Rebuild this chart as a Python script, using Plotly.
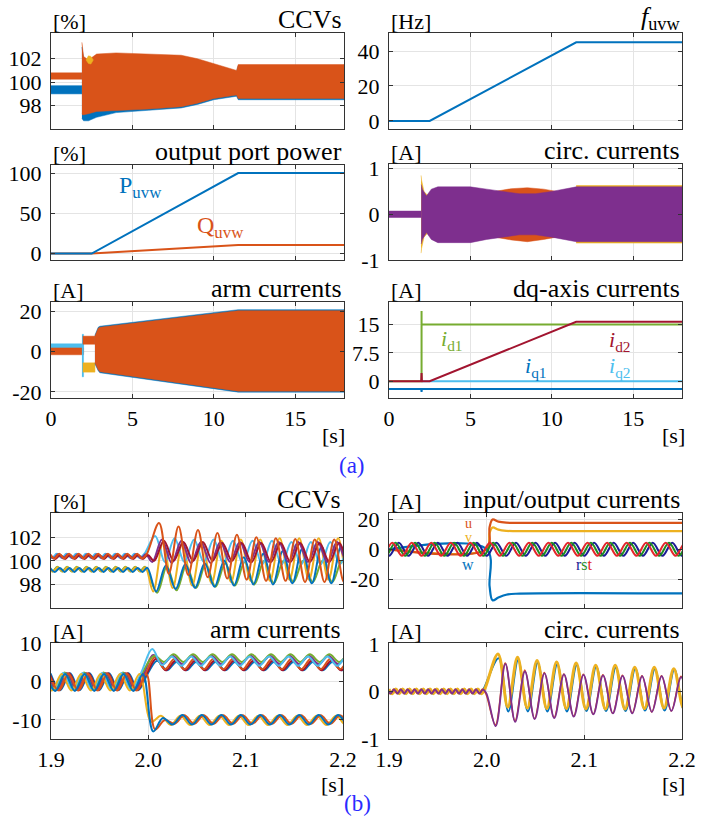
import plotly.graph_objects as go

W, H = 702, 825
FONT = "Liberation Serif"

C_BLUE, C_ORANGE, C_YELLOW = "#0072BD", "#D95319", "#EDB120"
C_PURPLE, C_GREEN, C_LBLUE, C_DRED = "#7E2F8E", "#77AC30", "#4DBEEE", "#A2142F"
C_R, C_S, C_T = "#1c1c96", "#1f8c1f", "#e3262b"

# ---------------- (a) long run, 0..18 s ----------------
ramp_t = [0, 2.5, 11.5, 18]
f_uvw = [0, 0, 45, 45]
P_uvw = [0, 0, 100, 100]
Q_uvw = [0, 0, 10.5, 10.5]

id1_t = [0, 2.0, 2.0, 2.0, 18]
id1 = [0, 0, 18.5, 15, 15]
id2_t = [0, 1.98, 2.0, 2.02, 2.5, 11.5, 18]
id2 = [0, 0, 2.2, 0, 0, 15.7, 15.7]
iq1_t = [0, 1.98, 2.0, 2.02, 18]
iq1 = [-2, -2, -2.8, -2, -2]
iq2_t = [2.0, 18]
iq2 = [0, 0]

# CCV envelopes
ccv_pre_t = [0, 1.9]
ccv_pre_or_up = [100.8, 100.8]
ccv_pre_or_lo = [100.25, 100.25]
ccv_pre_bl_up = [99.7, 99.7]
ccv_pre_bl_lo = [99.0, 99.0]
ccv_t = [1.9, 1.95, 2.0, 2.3, 2.8, 4, 6, 8, 9, 10, 11, 11.4, 11.5, 18]
ccv_or_up = [103.4, 102.6, 102.2, 101.9, 102.4, 102.5, 102.4, 102.3, 102.0, 101.6, 101.2, 101.0, 101.5, 101.5]
ccv_or_lo = [97.3, 97.2, 97.2, 97.3, 97.5, 97.6, 97.7, 97.9, 98.2, 98.6, 98.8, 98.9, 98.6, 98.6]
ccv_bl_up = [103.0, 102.5, 102.1, 101.8, 102.3, 102.4, 102.3, 102.2, 101.9, 101.5, 101.1, 100.9, 101.4, 101.4]
ccv_bl_lo = [96.9, 96.8, 96.7, 96.7, 97.0, 97.4, 97.6, 97.8, 98.1, 98.5, 98.7, 98.8, 98.5, 98.5]
ccv_ye_t = [2.15, 2.3, 2.45, 2.6]
ccv_ye_up = [101.9, 102.25, 102.2, 101.9]
ccv_ye_lo = [101.9, 101.6, 101.55, 101.9]

# circulating current envelopes
circ_pre_t = [0, 1.98]
circ_pre_up = [0.07, 0.07]
circ_pre_lo = [-0.07, -0.07]
circ_t = [1.98, 2.05, 2.3, 2.6, 3, 5, 6, 8, 9, 10, 11.5, 18]
circ_pu_up = [0.65, 0.55, 0.40, 0.55, 0.60, 0.60, 0.55, 0.45, 0.45, 0.50, 0.60, 0.60]
circ_pu_lo = [-0.65, -0.55, -0.40, -0.55, -0.62, -0.62, -0.55, -0.45, -0.45, -0.50, -0.60, -0.60]
circ_ye_t = [1.97, 2.0, 2.15, 2.35, 2.6]
circ_ye_up = [0.85, 0.75, 0.5, 0.42, 0.5]
circ_ye_lo = [-0.85, -0.75, -0.5, -0.42, -0.5]
circ_or_t = [6.5, 7.5, 8.5, 9.5, 10.3]
circ_or_up = [0.5, 0.56, 0.58, 0.55, 0.5]
circ_or_lo = [-0.5, -0.56, -0.6, -0.55, -0.5]
circ_ye2_t = [11.5, 18]
circ_ye2_up = [0.63, 0.63]
circ_ye2_lo = [-0.63, -0.63]

# arm current envelopes
arm_pre_t = [0, 2.0]
arm_pre_lb_up = [3.8, 3.8]
arm_pre_lb_lo = [-1.0, -1.0]
arm_pre_or_up = [1.8, 1.8]
arm_pre_or_lo = [-1.6, -1.6]
arm_wall_t = [1.9, 2.0]
arm_wall_up = [8.5, 8.5]
arm_wall_lo = [-12.5, -12.5]
arm_box_t = [1.95, 2.7]
arm_box_or_up = [7.6, 7.6]
arm_box_or_lo = [3.6, 3.6]
arm_box_ye_up = [-5.6, -5.6]
arm_box_ye_lo = [-10.2, -10.2]
arm_t = [2.7, 2.9, 3.0, 11.5, 18]
arm_or_up = [7.6, 11.5, 12.0, 20.2, 20.2]
arm_or_lo = [-5.6, -9.0, -10.0, -19.6, -19.6]
arm_bl_up = [8.1, 12.0, 12.5, 20.7, 20.7]
arm_bl_lo = [-6.1, -9.5, -10.5, -20.1, -20.1]

# ---------------- (b) zoom 1.9..2.22 s (extrema) ----------------
# each: (color, width, pre extrema, pre phase, post extrema, post phase)
ccv_b = [
    (C_GREEN, 2, [99.5, 99.1] * 12, -0.7,
     [97.3, 99.5, 97.5, 99.6, 97.7, 99.7, 97.8, 99.8, 97.9, 99.9, 98.0, 100.0, 98.1, 100.0, 98.2, 100.0, 98.2, 100.0, 98.2, 100.0, 98.2, 100.0, 98.2], 0.9),
    (C_YELLOW, 2, [99.45, 99.1] * 12, -0.6,
     [97.4, 101.5, 97.7, 101.5, 97.9, 101.6, 98.1, 101.7, 98.2, 101.8, 98.3, 101.8, 98.3, 101.9, 98.4, 101.9, 98.4, 101.9, 98.4, 101.9, 98.4, 101.9, 98.4], 0.5),
    (C_LBLUE, 2, [100.6, 100.25] * 12, -0.8,
     [102.1, 99.9, 101.9, 99.9, 101.8, 99.9, 101.8, 99.8, 101.7, 99.8, 101.7, 99.7, 101.7, 99.7, 101.6, 99.7, 101.6, 99.7, 101.6, 99.7, 101.6, 99.7, 101.6], 0.7),
    (C_BLUE, 2, [99.4, 99.05] * 12, -0.2,
     [97.4, 99.6, 97.6, 99.7, 97.7, 99.8, 97.8, 100.0, 97.9, 100.3, 98.0, 100.6, 98.0, 100.8, 98.1, 101.0, 98.1, 101.2, 98.1, 101.2, 98.1, 101.2, 98.1], 0.8),
    (C_PURPLE, 2, [100.55, 100.2] * 12, -0.5,
     [99.9, 101.8, 99.8, 101.7, 99.8, 101.6, 99.8, 101.6, 99.9, 101.6, 99.9, 101.6, 99.9, 101.6, 99.9, 101.6, 99.9, 101.6, 99.9, 101.6, 99.9, 101.6, 99.9], 0.4),
    (C_DRED, 2, [100.5, 100.15] * 12, -0.1,
     [100.0, 101.7, 100.0, 101.6, 100.0, 101.6, 100.0, 101.5, 100.0, 101.5, 99.9, 101.5, 99.9, 101.5, 99.9, 101.5, 99.9, 101.5, 99.9, 101.5, 99.9, 101.5, 99.9], 0.6),
    (C_ORANGE, 2, [100.6, 100.2] * 12, -0.3,
     [103.2, 98.9, 102.9, 98.8, 102.6, 98.6, 102.35, 98.5, 102.2, 98.4, 102.0, 98.3, 101.9, 98.3, 101.85, 98.2, 101.8, 98.2, 101.8, 98.2, 101.8, 98.2, 101.8], 1.1),
]

io_t = [1.9, 2.0, 2.003, 2.006, 2.012, 2.02, 2.03, 2.22]
io_u = [0, 0, 15, 20, 18.6, 17.9, 17.7, 17.7]
io_v = [0, 0, 11, 14.7, 13.2, 12.4, 12.2, 12.2]
io_w = [0, 0, -25, -34.3, -32.5, -30.6, -29.9, -29.8]
rst_vals = [4.4, -4.4] * 18
rst_b = [(C_R, 0.0), (C_S, -0.333), (C_T, -0.667)]

arm_b = [
    (C_BLUE, [2.2, -2.2] * 7, -0.05, [5.5] + [3.0, 5.2] * 11, 0.9),
    (C_DRED, [2.2, -2.2] * 7, -0.15, [6.0] + [3.0, 5.5] * 11, 0.8),
    (C_ORANGE, [2.2, -2.2] * 7, -0.3, [6.5] + [3.3, 6.0] * 11, 0.7),
    (C_PURPLE, [2.3, -2.1] * 7, -0.45, [7.0] + [4.6, 6.8] * 11, 0.5),
    (C_GREEN, [2.4, -2.0] * 7, -0.6, [6.8] + [5.2, 7.2] * 11, 0.6),
    (C_LBLUE, [2.3, -2.1] * 7, -0.75, [8.6, 4.4] + [6.6, 4.2] * 11, 0.4),
    (C_YELLOW, [2.0, -2.3] * 7, -0.9, [-10.5] + [-8.9, -11.3] * 11, 0.3),
    (C_ORANGE, [2.0, -2.3] * 7, -0.2, [-12.5, -10.0] + [-11.0, -8.8] * 11, 0.7),
    (C_BLUE, [2.0, -2.4] * 7, -0.55, [-13.0, -9.5] + [-11.2, -8.7] * 11, 0.5),
]

circ_b = [
    (C_BLUE, 2, [0.05, -0.05] * 16, -0.33,
     [0.7, -0.42, 0.66, -0.42, 0.6, -0.42, 0.57, -0.42, 0.55, -0.41, 0.52, -0.41, 0.5, -0.41, 0.48, -0.4, 0.47, -0.4, 0.46, -0.39, 0.45, -0.39, 0.45], 1.22),
    (C_YELLOW, 3, [0.05, -0.05] * 16, 0.0,
     [0.79, -0.33, 0.72, -0.35, 0.65, -0.36, 0.62, -0.36, 0.6, -0.37, 0.55, -0.37, 0.55, -0.37, 0.51, -0.36, 0.51, -0.35, 0.48, -0.35, 0.48, -0.34, 0.47], 1.16),
    (C_ORANGE, 1.5, [0.05, -0.05] * 16, -0.66,
     [-0.7, 0.6, -0.62, 0.45, -0.57, 0.4, -0.55, 0.37, -0.52, 0.36, -0.48, 0.35, -0.46, 0.34, -0.45, 0.33, -0.43, 0.33, -0.41, 0.32, -0.4, 0.32, -0.4], 0.9),
    (C_PURPLE, 1.8, [0.04, -0.04] * 16, -0.5,
     [-0.73, 0.58, -0.64, 0.42, -0.58, 0.38, -0.56, 0.36, -0.53, 0.35, -0.48, 0.34, -0.46, 0.33, -0.46, 0.32, -0.43, 0.32, -0.41, 0.3, -0.4, 0.3, -0.4], 0.92),
]

units = ["[%]", "[Hz]", "[%]", "[A]", "[A]", "[A]", "[%]", "[A]", "[A]", "[A]"]
titles = ["CCVs", "<i>f</i><sub>uvw</sub>", "output port power", "circ. currents",
          "arm currents", "dq-axis currents", "CCVs", "input/output currents",
          "arm currents", "circ. currents"]

# ---------------- layout geometry (pixels) ----------------
boxes = [(51, 344, 33, 129), (389, 682, 33, 129), (51, 344, 165, 260), (389, 682, 164, 260),
         (51, 344, 302, 398), (389, 682, 302, 398), (51, 343, 513, 608), (389, 682, 513, 608),
         (51, 343, 643, 739), (389, 682, 643, 739)]
yranges = [[96, 104.2], [-4.6, 50.3], [-8, 110], [-1.0, 1.1], [-23, 24.5], [-4.4, 20.9],
           [96, 104.05], [-39.5, 24.4], [-15, 10.15], [-1.0, 1.02]]
yticks = [[98, 100, 102], [0, 20, 40], [0, 50, 100], [-1, 0, 1], [-20, 0, 20], [0, 7.5, 15],
          [98, 100, 102], [-20, 0, 20], [-10, 0, 10], [-1, 0, 1]]
ytext = [["98", "100", "102"], ["0", "20", "40"], ["0", "50", "100"], ["-1", "0", "1"],
         ["-20", "0", "20"], ["0", "7.5", "15"], ["98", "100", "102"], ["-20", "0", "20"],
         ["-10", "0", "10"], ["-1", "0", "1"]]
xticks_a = [0, 5, 10, 15]
xticks_b = [1.9, 2.0, 2.1, 2.2]
xtext_b = ["1.9", "2.0", "2.1", "2.2"]

fig = go.Figure()


def ax(i):
    return ("x" if i == 0 else f"x{i+1}"), ("y" if i == 0 else f"y{i+1}")


def line(i, x, y, color, width=2, shape="linear"):
    xa, ya = ax(i)
    fig.add_trace(go.Scatter(x=x, y=y, mode="lines", xaxis=xa, yaxis=ya, showlegend=False,
                             line=dict(color=color, width=width, shape=shape), hoverinfo="skip"))


def band(i, t, up, lo, color):
    xa, ya = ax(i)
    fig.add_trace(go.Scatter(x=list(t) + list(t)[::-1], y=list(up) + list(lo)[::-1],
                             mode="lines", fill="toself", fillcolor=color, xaxis=xa, yaxis=ya,
                             line=dict(color=color, width=0.5), showlegend=False, hoverinfo="skip"))


def seq(t0, ph, dt, vals, t_end):
    ts, ys = [], []
    for k, v in enumerate(vals):
        tk = t0 + (ph + k) * dt
        if tk >= t_end:
            break
        ts.append(tk)
        ys.append(v)
    return ts, ys


def stepwave(pre, ph_pre, dt_pre, post, ph_post, dt_post):
    t1, y1 = seq(1.9, ph_pre, dt_pre, pre, 2.0)
    t2, y2 = seq(2.0, ph_post, dt_post, post, 2.25)
    return t1 + t2, y1 + y2


# panel a1: CCVs
band(0, ccv_pre_t, ccv_pre_bl_up, ccv_pre_bl_lo, C_BLUE)
band(0, ccv_pre_t, ccv_pre_or_up, ccv_pre_or_lo, C_ORANGE)
band(0, ccv_t, ccv_bl_up, ccv_bl_lo, C_BLUE)
band(0, ccv_t, ccv_or_up, ccv_or_lo, C_ORANGE)
band(0, ccv_ye_t, ccv_ye_up, ccv_ye_lo, C_YELLOW)
# panel a2: f
line(1, ramp_t, f_uvw, C_BLUE)
# panel a3: power
line(2, ramp_t, Q_uvw, C_ORANGE)
line(2, ramp_t, P_uvw, C_BLUE)
# panel a4: circ
band(3, circ_ye_t, circ_ye_up, circ_ye_lo, C_YELLOW)
band(3, circ_ye2_t, circ_ye2_up, circ_ye2_lo, C_YELLOW)
band(3, circ_or_t, circ_or_up, circ_or_lo, C_ORANGE)
band(3, circ_pre_t, circ_pre_up, circ_pre_lo, C_PURPLE)
band(3, circ_t, circ_pu_up, circ_pu_lo, C_PURPLE)
# panel a5: arm
band(4, arm_pre_t, arm_pre_lb_up, arm_pre_lb_lo, C_LBLUE)
band(4, arm_pre_t, arm_pre_or_up, arm_pre_or_lo, C_ORANGE)
band(4, arm_wall_t, arm_wall_up, arm_wall_lo, C_LBLUE)
band(4, arm_box_t, arm_box_or_up, arm_box_or_lo, C_ORANGE)
band(4, arm_box_t, arm_box_ye_up, arm_box_ye_lo, C_YELLOW)
band(4, arm_t, arm_bl_up, arm_bl_lo, C_BLUE)
band(4, arm_t, arm_or_up, arm_or_lo, C_ORANGE)
# panel a6: dq
line(5, iq2_t, iq2, C_LBLUE)
line(5, iq1_t, iq1, C_BLUE)
line(5, id1_t, id1, C_GREEN)
line(5, id2_t, id2, C_DRED)

# panel b1: CCVs zoom
for col, w, pre, php, post, phq in ccv_b:
    t, y = stepwave(pre, php, 0.005, post, phq, 0.01)
    line(6, t, y, col, w, "spline")
# panel b2: io currents
line(7, io_t, io_v, C_YELLOW, 2.2, "spline")
line(7, io_t, io_u, C_ORANGE, 2.2, "spline")
line(7, io_t, io_w, C_BLUE, 2.2, "spline")
for col, ph in rst_b:
    t, y = seq(1.9, ph - 1, 0.01, rst_vals, 2.25)
    line(7, t, y, col, 2, "spline")
# panel b3: arm currents zoom
for col, pre, php, post, phq in arm_b:
    t, y = stepwave(pre, php, 0.01, post, phq, 0.01)
    line(8, t, y, col, 2, "spline")
# panel b4: circ currents zoom
for col, w, pre, php, post, phq in circ_b:
    t, y = stepwave(pre, php, 0.0035, post, phq, 0.01)
    line(9, t, y, col, w, "spline")

layout = dict(width=W, height=H, autosize=False, margin=dict(l=0, r=0, t=0, b=0, autoexpand=False),
              paper_bgcolor="white", plot_bgcolor="white", showlegend=False,
              font=dict(family=FONT, size=22, color="black"))
AXC = "#333333"
GRC = "#e4e4e4"
for i, (x0, x1, y0, y1) in enumerate(boxes):
    xa, ya = ax(i)
    xk = "xaxis" if i == 0 else f"xaxis{i+1}"
    yk = "yaxis" if i == 0 else f"yaxis{i+1}"
    sec_b = i >= 6
    bottom = i in (4, 5, 8, 9)
    xd = dict(domain=[x0 / W, x1 / W], anchor=ya, range=[1.9, 2.2] if sec_b else [0, 18],
              tickvals=xticks_b if sec_b else xticks_a,
              ticktext=xtext_b if sec_b else [str(v) for v in xticks_a],
              showticklabels=bottom, showline=True, linecolor=AXC, linewidth=1, mirror="ticks",
              ticks="inside", ticklen=4, tickcolor=AXC, showgrid=True, gridcolor=GRC,
              zeroline=False, automargin=False, ticklabelstandoff=1,
              tickfont=dict(family=FONT, size=22, color="black"))
    yd = dict(domain=[1 - y1 / H, 1 - y0 / H], anchor=xa, range=yranges[i], tickvals=yticks[i],
              ticktext=ytext[i], showline=True, linecolor=AXC, linewidth=1, mirror="ticks",
              ticks="inside", ticklen=4, tickcolor=AXC, showgrid=True, gridcolor=GRC,
              zeroline=False, automargin=False, ticklabelstandoff=4,
              tickfont=dict(family=FONT, size=22, color="black"))
    layout[xk] = xd
    layout[yk] = yd

ann = []
for i, (x0, x1, y0, y1) in enumerate(boxes):
    ann.append(dict(x=x0 / W, y=1 - y0 / H, xref="paper", yref="paper", text=units[i],
                    showarrow=False, xanchor="left", yanchor="bottom", yshift=-3,
                    font=dict(size=22)))
    ann.append(dict(x=x1 / W, y=1 - y0 / H, xref="paper", yref="paper", text=titles[i],
                    showarrow=False, xanchor="right", yanchor="bottom", yshift=-3,
                    font=dict(size=26)))
# [s] labels
for (x1, yc) in [(346, 436), (686, 436), (345, 784), (686, 784)]:
    ann.append(dict(x=x1 / W, y=1 - yc / H, xref="paper", yref="paper", text="[s]",
                    showarrow=False, xanchor="right", yanchor="middle", borderpad=0,
                    font=dict(size=22)))
ann.append(dict(x=352 / W, y=1 - 465 / H, xref="paper", yref="paper", text="(a)",
                showarrow=False, xanchor="center", yanchor="middle",
                font=dict(size=23, color="#2b2bff")))
ann.append(dict(x=357 / W, y=1 - 803 / H, xref="paper", yref="paper", text="(b)",
                showarrow=False, xanchor="center", yanchor="middle", borderpad=0,
                font=dict(size=23, color="#2b2bff")))
# in-plot labels (data coords)
ann += [
    dict(x=5.5, y=83, xref="x3", yref="y3", text="P<sub>uvw</sub>", showarrow=False,
         font=dict(size=24, color=C_BLUE)),
    dict(x=10.4, y=33, xref="x3", yref="y3", text="Q<sub>uvw</sub>", showarrow=False,
         font=dict(size=24, color=C_ORANGE)),
    dict(x=3.9, y=10.8, xref="x6", yref="y6", text="<i>i</i><sub>d1</sub>", showarrow=False,
         font=dict(size=22, color=C_GREEN)),
    dict(x=14.2, y=10.6, xref="x6", yref="y6", text="<i>i</i><sub>d2</sub>", showarrow=False,
         font=dict(size=22, color=C_DRED)),
    dict(x=9.0, y=3.9, xref="x6", yref="y6", text="<i>i</i><sub>q1</sub>", showarrow=False,
         font=dict(size=22, color=C_BLUE)),
    dict(x=14.2, y=3.9, xref="x6", yref="y6", text="<i>i</i><sub>q2</sub>", showarrow=False,
         font=dict(size=22, color=C_LBLUE)),
    dict(x=1.9816, y=17.6, xref="x8", yref="y8", text="u", showarrow=False, borderpad=0,
         font=dict(size=14, color=C_ORANGE)),
    dict(x=1.9816, y=7.6, xref="x8", yref="y8", text="v", showarrow=False, borderpad=0,
         font=dict(size=14, color=C_YELLOW)),
    dict(x=1.9806, y=-10.5, xref="x8", yref="y8", text="w", showarrow=False,
         font=dict(size=16, color=C_BLUE)),
    dict(x=2.1, y=-10.5, xref="x8", yref="y8", showarrow=False, font=dict(size=16),
         text=f"<span style='color:{C_R}'>r</span><span style='color:{C_S}'>s</span>"
              f"<span style='color:{C_T}'>t</span>"),
]
layout["annotations"] = ann
fig.update_layout(**layout)
fig.write_html("out.html")
